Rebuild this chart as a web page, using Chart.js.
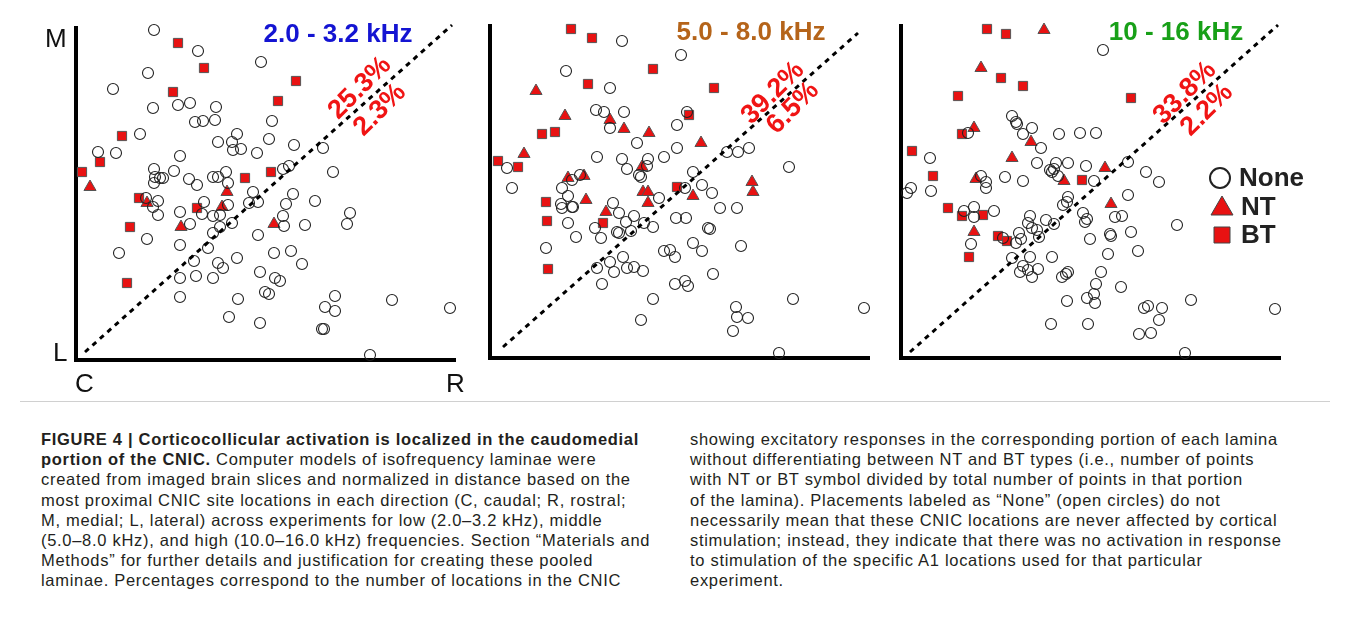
<!DOCTYPE html>
<html>
<head>
<meta charset="utf-8">
<script src="https://cdn.jsdelivr.net/npm/chart.js@4.4.1/dist/chart.umd.min.js"></script>
<style>
  html, body { margin: 0; padding: 0; background: #fff; }
  body { width: 1348px; height: 626px; position: relative; overflow: hidden; font-family: "Liberation Sans", Arial, sans-serif; }
  .panel { position: absolute; }
  .axlab { position: absolute; font-size: 26px; color: #111; line-height: 1; }
  #caption { position: absolute; left: 20px; top: 401px; width: 1310px; height: 224px; border-top: 1px solid #d0d0d0; }
  .col { position: absolute; top: 27px; font-size: 16.5px; letter-spacing: 0.7px; line-height: 20.2px; color: #231f20; white-space: nowrap; }
</style>
</head>
<body>
<div class="panel" id="p1"><canvas id="c1"></canvas></div>
<div class="panel" id="p2"><canvas id="c2"></canvas></div>
<div class="panel" id="p3"><canvas id="c3"></canvas></div>

<div class="axlab" style="left:45px;top:25px;">M</div>
<div class="axlab" style="left:53px;top:339px;">L</div>
<div class="axlab" style="left:75px;top:370px;">C</div>
<div class="axlab" style="left:446px;top:370px;">R</div>

<div id="caption">
  <div class="col" style="left:21px;"><b>FIGURE 4 | Corticocollicular activation is localized in the caudomedial</b><br><b>portion of the CNIC.</b> Computer models of isofrequency laminae were<br>created from imaged brain slices and normalized in distance based on the<br>most proximal CNIC site locations in each direction (C, caudal; R, rostral;<br>M, medial; L, lateral) across experiments for low (2.0–3.2 kHz), middle<br>(5.0–8.0 kHz), and high (10.0–16.0 kHz) frequencies. Section “Materials and<br>Methods” for further details and justification for creating these pooled<br>laminae. Percentages correspond to the number of locations in the CNIC</div>
  <div class="col" style="left:670px;">showing excitatory responses in the corresponding portion of each lamina<br>without differentiating between NT and BT types (i.e., number of points<br>with NT or BT symbol divided by total number of points in that portion<br>of the lamina). Placements labeled as “None” (open circles) do not<br>necessarily mean that these CNIC locations are never affected by cortical<br>stimulation; instead, they indicate that there was no activation in response<br>to stimulation of the specific A1 locations used for that particular<br>experiment.</div>
</div>

<script>
// positions in each lamina: x = caudal -> rostral, y = lateral -> medial
const lowNone = [[78,330],[122,309],[72,287],[37,271],[77,252],[102,255],[114,257],[140,253],[119,238],[127,239],[139,240],[64,226],[161,226],[156,218],[142,218],[157,210],[165,211],[181,207],[22,208],[40,207],[104,204],[78,191],[98,189],[79,183],[84,182],[87,182],[78,177],[113,181],[121,175],[137,183],[142,183],[150,188],[152,177],[177,168],[185,298],[196,239],[193,221],[218,215],[247,212],[207,191],[213,194],[257,188],[217,166],[70,162],[82,159],[77,153],[82,145],[104,148],[114,136],[128,158],[152,155],[126,146],[137,144],[144,145],[173,157],[182,158],[156,137],[144,133],[137,127],[71,121],[43,107],[104,115],[132,112],[118,99],[142,97],[147,92],[161,102],[182,125],[184,88],[104,82],[120,84],[137,82],[104,63],[162,61],[153,43],[184,37],[210,156],[239,159],[274,147],[207,144],[208,134],[229,135],[271,136],[198,107],[215,109],[226,96],[199,82],[204,79],[189,68],[193,66],[259,64],[316,60],[249,53],[259,49],[374,52],[246,31],[248,31],[294,5]];
const lowNT = [[14,173],[151,168],[71,157],[146,153],[105,133],[198,136]];
const lowBT = [[102,317],[128,292],[97,268],[46,224],[24,198],[6,188],[169,182],[220,279],[202,259],[195,188],[63,162],[121,152],[54,133],[51,77]];

const midNone = [[132,317],[76,287],[120,270],[106,248],[114,246],[134,246],[120,230],[147,215],[107,201],[132,199],[137,189],[158,199],[157,192],[174,201],[149,183],[151,181],[17,190],[90,183],[82,178],[22,170],[72,170],[191,303],[187,233],[187,210],[197,246],[237,206],[248,206],[259,210],[299,191],[203,186],[212,173],[195,170],[222,165],[78,162],[82,151],[71,154],[72,150],[83,151],[78,135],[123,155],[129,145],[144,142],[136,136],[154,135],[163,131],[105,130],[127,126],[129,125],[141,127],[86,121],[111,120],[56,110],[169,160],[186,140],[120,96],[133,101],[107,90],[124,86],[137,90],[144,91],[153,87],[112,74],[163,59],[151,38],[174,107],[180,108],[185,101],[185,74],[230,150],[247,150],[196,140],[218,130],[220,129],[203,115],[212,107],[251,112],[223,84],[195,77],[198,72],[303,59],[374,50],[246,51],[247,41],[258,40],[243,27],[289,5]];
const midNT = [[46,267],[75,242],[120,238],[134,229],[159,225],[34,204],[152,191],[78,180],[94,182],[153,166],[158,166],[211,215],[262,176],[263,166],[203,162],[96,158],[116,146],[158,155]];
const midBT = [[81,329],[102,320],[163,289],[98,274],[52,224],[65,226],[8,197],[28,191],[187,171],[224,270],[199,243],[56,156],[57,137],[113,135],[58,89]];

const highNone = [[67,225],[111,242],[115,236],[116,234],[131,230],[122,224],[140,210],[158,224],[179,225],[195,225],[29,200],[136,195],[149,188],[151,186],[153,189],[155,195],[167,195],[185,192],[157,182],[104,181],[122,177],[80,182],[85,176],[85,170],[10,170],[6,165],[30,167],[193,177],[202,308],[227,196],[245,186],[258,176],[227,163],[63,147],[73,151],[73,141],[93,147],[70,114],[102,120],[118,125],[120,119],[115,115],[129,142],[127,135],[131,130],[136,128],[138,121],[145,138],[153,134],[162,153],[167,161],[166,156],[182,145],[186,139],[184,136],[189,119],[111,100],[129,101],[151,101],[122,92],[119,86],[127,88],[137,89],[131,81],[167,86],[165,84],[161,81],[166,57],[186,60],[193,64],[194,55],[195,74],[150,34],[187,34],[214,141],[221,142],[230,126],[276,133],[209,124],[210,122],[207,104],[237,107],[200,86],[220,71],[290,58],[243,50],[247,52],[261,50],[258,38],[374,49],[238,24],[250,25],[284,5]];
const highNT = [[143,328],[80,290],[73,230],[130,216],[111,200],[75,179],[163,177],[204,190],[73,126],[210,154]];
const highBT = [[86,329],[105,324],[100,280],[122,272],[57,262],[61,224],[11,207],[32,182],[181,178],[230,260],[47,150],[61,142],[82,143],[68,101],[97,122],[106,117]];

// dashed diagonals, end points
const lowDiag = [[9,8],[376,335]];
const midDiag = [[13,11],[368,325]];
const highDiag = [[9,6],[377,333]];

const bandTitles = ['2.0 - 3.2 kHz', '5.0 - 8.0 kHz', '10 - 16 kHz'];
const bandColors = ['#1414d2', '#b5641a', '#18a018'];
const upperPct = ['25.3%', '39.2%', '33.8%'];
const lowerPct = ['2.3%', '6.5%', '2.2%'];
const legendLabels = ['None', 'NT', 'BT'];

const X_MAX = 378, Y_MAX = 332, PAD = 20;
const origins = [[76, 360], [490, 358], [901, 358]];

const toXY = (arr) => arr.map((p) => ({ x: p[0], y: p[1] }));

const decor = {
  id: 'decor',
  beforeDatasetsDraw(chart, args, opts) {
    const a = chart.chartArea;
    const ctx = chart.ctx;
    ctx.save();
    ctx.strokeStyle = '#000';
    ctx.lineWidth = 4;
    ctx.lineCap = 'square';
    ctx.beginPath();
    ctx.moveTo(a.left, a.top);
    ctx.lineTo(a.left, a.bottom);
    ctx.lineTo(a.right, a.bottom);
    ctx.stroke();
    ctx.restore();
  },
  afterDatasetsDraw(chart, args, opts) {
    const ctx = chart.ctx;
    const xs = chart.scales.x, ys = chart.scales.y;
    ctx.save();
    // band title
    ctx.font = 'bold 26px "Liberation Sans", Arial, sans-serif';
    ctx.fillStyle = opts.color;
    ctx.textAlign = 'center';
    ctx.textBaseline = 'middle';
    ctx.fillText(opts.title, xs.getPixelForValue(opts.titleAt[0]), ys.getPixelForValue(opts.titleAt[1]));
    // percentages along the diagonal
    ctx.fillStyle = '#f01414';
    ctx.font = 'bold 27px "Liberation Sans", Arial, sans-serif';
    [[opts.upper, opts.upperAt], [opts.lower, opts.lowerAt]].forEach(([txt, at]) => {
      ctx.save();
      ctx.translate(xs.getPixelForValue(at[0]), ys.getPixelForValue(at[1]));
      ctx.rotate(-45 * Math.PI / 180);
      ctx.fillText(txt, 0, 0);
      ctx.restore();
    });
    // legend
    if (opts.legend) {
      const rows = [[319, 180, 'circle'], [321, 151, 'triangle'], [321, 123, 'rect']];
      rows.forEach((r, i) => {
        const px = xs.getPixelForValue(r[0]);
        const py = ys.getPixelForValue(r[1]);
        ctx.beginPath();
        if (r[2] === 'circle') {
          ctx.arc(px, py, 10, 0, Math.PI * 2);
          ctx.lineWidth = 2;
          ctx.strokeStyle = '#222';
          ctx.stroke();
        } else if (r[2] === 'triangle') {
          ctx.moveTo(px, py - 11);
          ctx.lineTo(px + 11, py + 8);
          ctx.lineTo(px - 11, py + 8);
          ctx.closePath();
          ctx.fillStyle = '#e81212';
          ctx.fill();
          ctx.lineWidth = 1;
          ctx.strokeStyle = '#444';
          ctx.stroke();
        } else {
          ctx.rect(px - 8, py - 8, 16, 16);
          ctx.fillStyle = '#e81212';
          ctx.fill();
          ctx.lineWidth = 1;
          ctx.strokeStyle = '#444';
          ctx.stroke();
        }
        ctx.font = 'bold 26px "Liberation Sans", Arial, sans-serif';
        ctx.fillStyle = '#222';
        ctx.textAlign = 'left';
        ctx.fillText(legendLabels[i], px + 19, py + 1);
      });
    }
    ctx.restore();
  }
};

function makePanel(idx, none, nt, bt, diag, titleAt, upperAt, lowerAt) {
  const [ox, oy] = origins[idx];
  const padR = idx === 2 ? 50 : PAD;
  const wrap = document.getElementById('p' + (idx + 1));
  wrap.style.left = (ox - PAD) + 'px';
  wrap.style.top = (oy - Y_MAX - PAD) + 'px';
  wrap.style.width = (X_MAX + PAD + padR) + 'px';
  wrap.style.height = (Y_MAX + 2 * PAD) + 'px';
  const red = '#e81212';
  new Chart(document.getElementById('c' + (idx + 1)), {
    type: 'scatter',
    data: {
      datasets: [
        {
          type: 'line', data: toXY(diag), borderColor: '#000', borderWidth: 3,
          borderDash: [5, 5], pointRadius: 0, fill: false, clip: false
        },
        {
          label: 'None', data: toXY(none), pointStyle: 'circle', pointRadius: 5.5,
          backgroundColor: 'rgba(255,255,255,0)', borderColor: '#222', borderWidth: 1.1, clip: false
        },
        {
          label: 'NT', data: toXY(nt), pointStyle: 'triangle', pointRadius: 7,
          backgroundColor: red, borderColor: '#555', borderWidth: 1, clip: false
        },
        {
          label: 'BT', data: toXY(bt), pointStyle: 'rect', pointRadius: 6.5,
          backgroundColor: red, borderColor: '#555', borderWidth: 1, clip: false
        }
      ]
    },
    options: {
      responsive: true,
      maintainAspectRatio: false,
      animation: false,
      events: [],
      layout: { padding: { left: PAD, right: padR, top: PAD, bottom: PAD } },
      scales: {
        x: { type: 'linear', min: 0, max: X_MAX, display: false },
        y: { type: 'linear', min: 0, max: Y_MAX, display: false }
      },
      plugins: {
        legend: { display: false },
        tooltip: { enabled: false },
        decor: {
          title: bandTitles[idx], color: bandColors[idx], titleAt: titleAt,
          upper: upperPct[idx], lower: lowerPct[idx], upperAt: upperAt, lowerAt: lowerAt,
          legend: idx === 2
        }
      }
    },
    plugins: [decor]
  });
}

makePanel(0, lowNone, lowNT, lowBT, lowDiag, [262, 325], [284, 272], [304, 250]);
makePanel(1, midNone, midNT, midBT, midDiag, [261, 325], [283, 265], [303, 250]);
makePanel(2, highNone, highNT, highBT, highDiag, [275, 325], [284, 265], [306, 248]);
</script>
</body>
</html>
